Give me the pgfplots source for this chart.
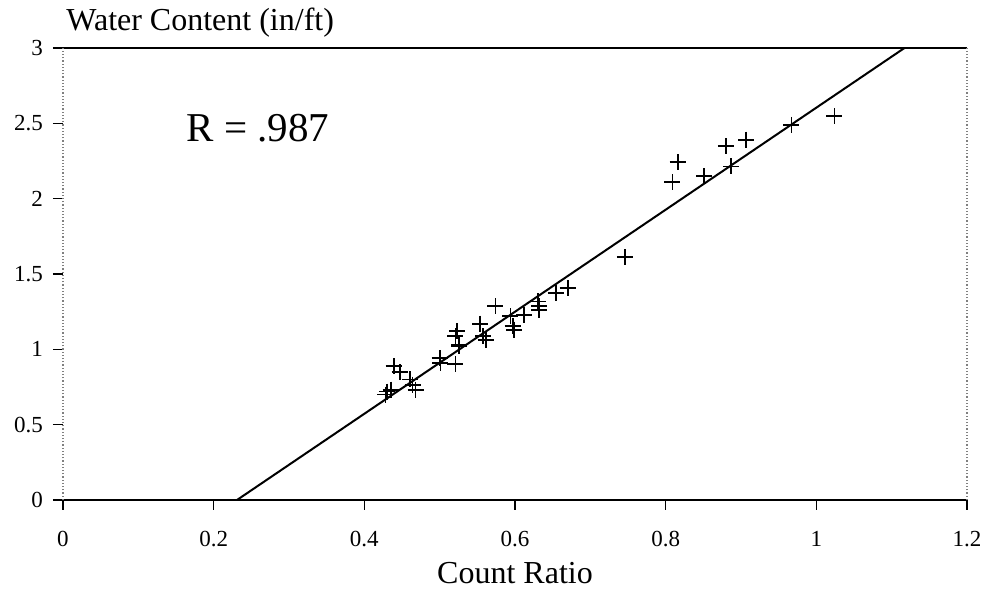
\documentclass[border=0pt]{standalone}
\usepackage{pgfplots}
\pgfplotsset{compat=1.18}
\usepackage{fontspec}
\setmainfont{Liberation Serif}

\begin{document}
\begin{tikzpicture}
\begin{axis}[
  name=ax,
  scale only axis, width=452pt, height=226pt,
  xmin=0, xmax=1.2, ymin=0, ymax=3,
  xtick={0,0.2,0.4,0.6,0.8,1,1.2},
  ytick={0,0.5,1,1.5,2,2.5,3},
  tick align=outside, major tick length=5pt,
  xtick pos=bottom, ytick pos=left,
  tick style={black, line width=0.6pt},
  separate axis lines,
  every outer x axis line/.append style={black, line width=0.8pt},
  every outer y axis line/.append style={gray, densely dotted, line width=0.6pt},
  /pgf/number format/assume math mode=true,
  tick label style={font=\fontsize{11.5}{12}\selectfont},
  xticklabel style={yshift=-7pt},
  yticklabel style={xshift=-1.5pt},
  xlabel={Count Ratio},
  xlabel style={font=\fontsize{16}{18}\selectfont, at={(rel axis cs:0.5,0)},
    anchor=base, inner sep=0pt, yshift=-42pt},
  ylabel={Water Content (in/ft)},
  ylabel style={font=\fontsize{16}{18}\selectfont, rotate=-90,
    at={(rel axis cs:0,1)}, anchor=base west, inner sep=0pt, xshift=1.5pt, yshift=8.5pt},
  clip=false,
]
% regression line
\addplot[black, line width=1pt] coordinates {(0.231,0) (1.117,3)};
% measurements
\addplot[only marks, mark=+, mark size=4pt, black, line width=0.9pt] coordinates {
(0.439,0.887) (0.447,0.847) (0.435,0.732) (0.430,0.720) (0.428,0.700)
(0.461,0.800) (0.464,0.765) (0.468,0.732)
(0.500,0.940) (0.501,0.910) (0.521,0.900)
(0.526,1.020) (0.523,1.120) (0.521,1.086) (0.526,1.030)
(0.554,1.170) (0.558,1.086) (0.561,1.064)
(0.574,1.285) (0.594,1.220) (0.597,1.153) (0.599,1.130) (0.612,1.230)
(0.630,1.318) (0.632,1.285) (0.632,1.263)
(0.654,1.374) (0.670,1.407)
(0.746,1.612)
(0.809,2.108) (0.816,2.243) (0.851,2.148) (0.880,2.347) (0.887,2.214) (0.907,2.391)
(0.967,2.490) (1.024,2.546)
};
\node[font=\fontsize{20.5}{22}\selectfont] at (axis cs:0.259,2.47) {R = .987};
\end{axis}
\pgfresetboundingbox
\path ([xshift=-31.5pt,yshift=-46pt]ax.south west) rectangle ([xshift=10pt,yshift=24pt]ax.north east);
\end{tikzpicture}
\end{document}
